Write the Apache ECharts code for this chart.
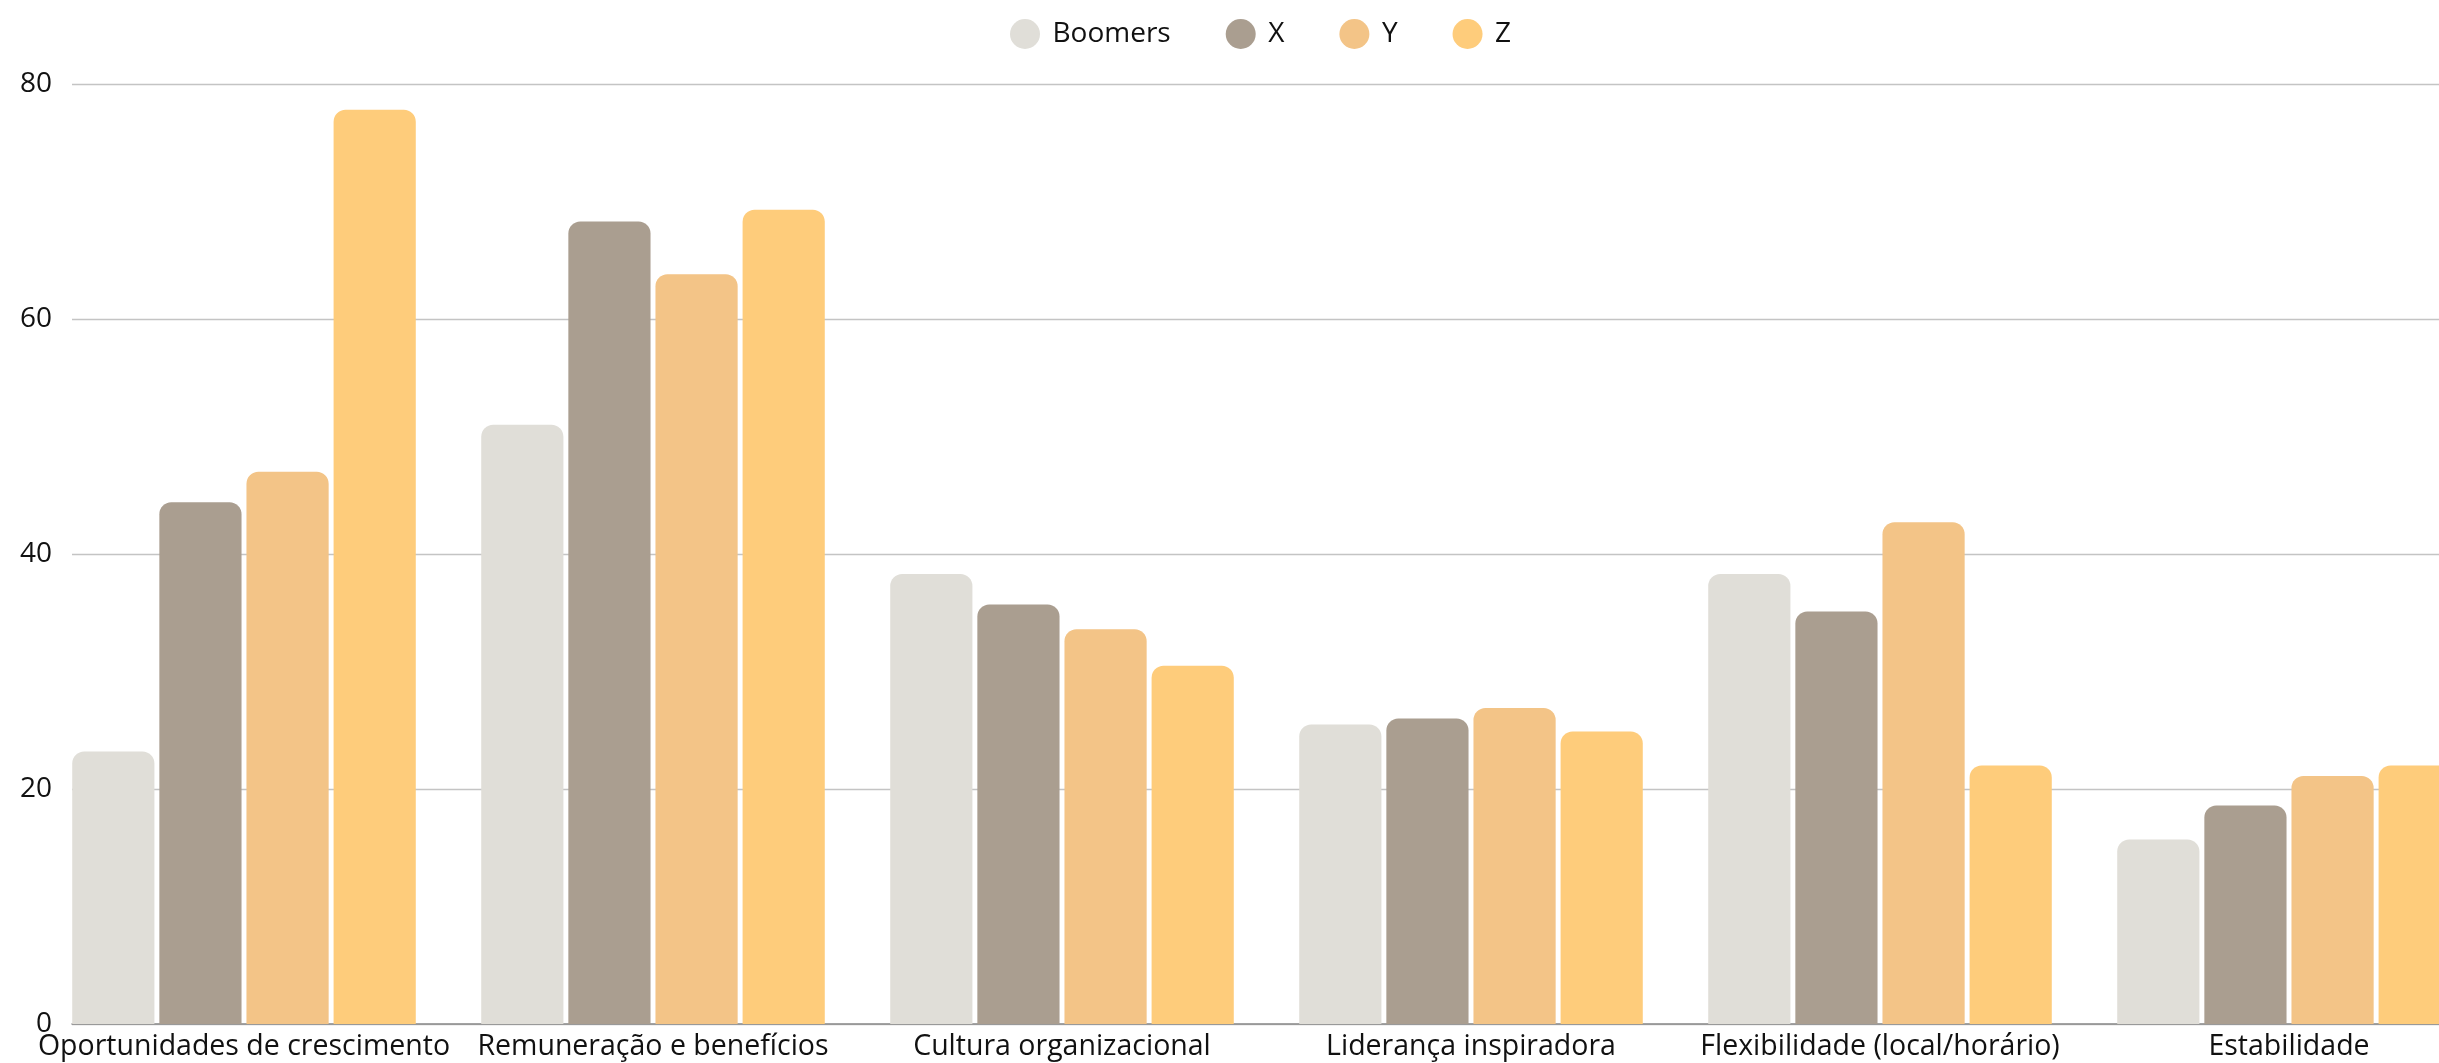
<!DOCTYPE html>
<html>
<head>
<meta charset="utf-8">
<style>
  html, body { margin: 0; padding: 0; background: #ffffff; overflow: hidden; }
  #chart { width: 2439px; height: 1063px; }
</style>
<script src="https://cdn.jsdelivr.net/npm/echarts@6/dist/echarts.min.js"></script>
</head>
<body>
<div id="chart"></div>
<script>
const categories = [
  'Oportunidades de crescimento',
  'Remuneração e benefícios',
  'Cultura organizacional',
  'Liderança inspiradora',
  'Flexibilidade (local/horário)',
  'Estabilidade'
];
const seriesNames = ['Boomers', 'X', 'Y', 'Z'];
const boomers = [23.2, 51.0, 38.3, 25.5, 38.3, 15.7];
const genX    = [44.4, 68.3, 35.7, 26.0, 35.1, 18.6];
const genY    = [47.0, 63.8, 33.6, 26.9, 42.7, 21.1];
const genZ    = [77.8, 69.3, 30.5, 24.9, 22.0, 22.0];
const yTicks = { min: 0, max: 80, interval: 20 };

const colors = ['#e0ded8', '#aa9e90', '#f3c487', '#fecc7b'];
const values = [boomers, genX, genY, genZ];
const font = '"Open Sans", "Noto Sans", sans-serif';

const chart = echarts.init(document.getElementById('chart'), null, { renderer: 'canvas' });

const option = {
  animation: false,
  color: colors,
  textStyle: { fontFamily: font },
  legend: {
    data: seriesNames,
    left: 1005,
    top: 14,
    icon: 'circle',
    itemWidth: 45,
    itemHeight: 30,
    itemGap: 55,
    textStyle: { fontFamily: font, fontSize: 28, color: '#111111' }
  },
  grid: [
    { left: 39.5, width: 2454, top: 84, height: 940, containLabel: false, outerBoundsMode: 'none' },
    { left: 72, width: 2421, top: 84, height: 940, containLabel: false, outerBoundsMode: 'none' }
  ],
  xAxis: [
    {
      type: 'category',
      gridIndex: 0,
      data: categories,
      axisLine: { show: false },
      axisTick: { show: false },
      axisLabel: {
        margin: 8,
        fontFamily: font,
        fontSize: 28.5,
        color: '#111111',
        interval: 0
      }
    },
    {
      type: 'category',
      gridIndex: 1,
      data: categories,
      axisLine: { show: true, lineStyle: { color: '#8a8a8a', width: 1.5 } },
      axisTick: { show: false },
      axisLabel: { show: false }
    }
  ],
  yAxis: [
    {
      type: 'value',
      gridIndex: 0,
      min: yTicks.min, max: yTicks.max, interval: yTicks.interval,
      axisLine: { show: false },
      axisTick: { show: false },
      axisLabel: { show: false },
      splitLine: { show: false }
    },
    {
      type: 'value',
      gridIndex: 1,
      min: yTicks.min, max: yTicks.max, interval: yTicks.interval,
      axisLine: { show: false },
      axisTick: { show: false },
      axisLabel: { margin: 20, fontFamily: font, fontSize: 28, color: '#111111' },
      splitLine: { show: true, lineStyle: { color: '#c4c4c4', width: 1.3 } }
    }
  ],
  series: seriesNames.map((name, i) => ({
    name: name,
    type: 'bar',
    xAxisIndex: 0,
    yAxisIndex: 0,
    z: 3,
    data: values[i],
    barGap: '6%',
    barCategoryGap: '16%',
    itemStyle: { color: colors[i], borderRadius: [12, 12, 0, 0] }
  }))
};

chart.setOption(option);
</script>
</body>
</html>
